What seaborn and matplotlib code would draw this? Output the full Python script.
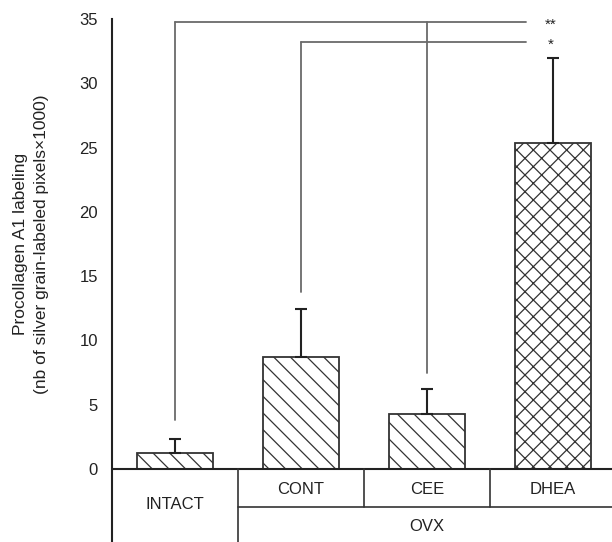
import numpy as np
import matplotlib
matplotlib.use("Agg")
import matplotlib.pyplot as plt
import seaborn as sns

# data
groups = ["INTACT", "CONT", "CEE", "DHEA"]
means = [1.22, 8.73, 4.30, 25.33]
errors = [1.14, 3.69, 1.90, 6.65]
hatches = ["\\\\", "\\\\", "\\\\", "xx"]

# significance brackets: (group index, lower end of drop line)
sig_top = [(0, 3.8), (2, 7.5)]
sig_low = [(1, 13.8)]
sig_top_y = 34.75
sig_low_y = 33.2

sns.set_theme(style="white")
plt.rcParams['font.family'] = ['Liberation Sans', 'DejaVu Sans']
plt.rcParams['hatch.linewidth'] = 0.9
plt.rcParams['hatch.color'] = '#3a3a3a'

fig = plt.figure(figsize=(6.12, 5.42), dpi=100)
ax = fig.add_axes([112 / 612, 0, 500 / 612, 523 / 542])

sns.barplot(x=groups, y=means, color="white", edgecolor="#333333",
            linewidth=1.3, width=0.6, ax=ax, errorbar=None)
for patch, h in zip(ax.patches, hatches):
    patch.set_hatch(h)
    patch.set_facecolor("white")

ax.errorbar(np.arange(len(groups)), means,
            yerr=[np.zeros(len(errors)), errors],
            fmt="none", ecolor="#222222", elinewidth=1.5,
            capsize=4.5, capthick=1.5)

ax.set_xlim(-0.5, 3.47)
ax.set_ylim(-5.68, 35)
ax.set_yticks(range(0, 36, 5))
ax.tick_params(axis='y', direction='out', length=6.5, width=1.3,
               labelsize=12, color="#222222", labelcolor="#222222", pad=3.5)
ax.tick_params(axis='x', bottom=False, labelbottom=False)
ax.set_xlabel("")
for s in ["top", "right", "bottom"]:
    ax.spines[s].set_visible(False)
ax.spines["left"].set_linewidth(1.5)
ax.spines["left"].set_color("#222222")

# baseline and group table
ax.axhline(0, color="#222222", lw=1.5, clip_on=False)
ax.plot([0.5, 0.5], [0, -5.68], color="#333333", lw=1.2)
ax.plot([1.5, 1.5], [0, -2.95], color="#333333", lw=1.2)
ax.plot([2.5, 2.5], [0, -2.95], color="#333333", lw=1.2)
ax.plot([0.5, 3.47], [-2.95, -2.95], color="#333333", lw=1.2)
for i, g in enumerate(groups[1:], start=1):
    ax.text(i, -1.6, g, ha="center", va="center", fontsize=12, color="#222222")
ax.text(0, -2.8, groups[0], ha="center", va="center", fontsize=12, color="#222222")
ax.text(2, -4.45, "OVX", ha="center", va="center", fontsize=12, color="#222222")

# significance lines
line_kw = dict(color="#6a6a6a", lw=1.3)
ax.plot([0, 2.79], [sig_top_y, sig_top_y], **line_kw)
ax.plot([1, 2.79], [sig_low_y, sig_low_y], **line_kw)
for i, low in sig_top:
    ax.plot([i, i], [low, sig_top_y], **line_kw)
for i, low in sig_low:
    ax.plot([i, i], [low, sig_low_y], **line_kw)
ax.text(2.98, sig_top_y - 0.2, "**", ha="center", va="center", fontsize=11, color="#222222")
ax.text(2.98, sig_low_y - 0.2, "*", ha="center", va="center", fontsize=11, color="#222222")

ax.set_ylabel("Procollagen A1 labeling\n(nb of silver grain-labeled pixels\u00d71000)",
              fontsize=12.5, color="#222222", linespacing=1.55)
ax.yaxis.set_label_coords(-0.125, (0 + 5.68) / 40.68 + 17.5 / 40.68)

fig.savefig("out.png", dpi=100)
